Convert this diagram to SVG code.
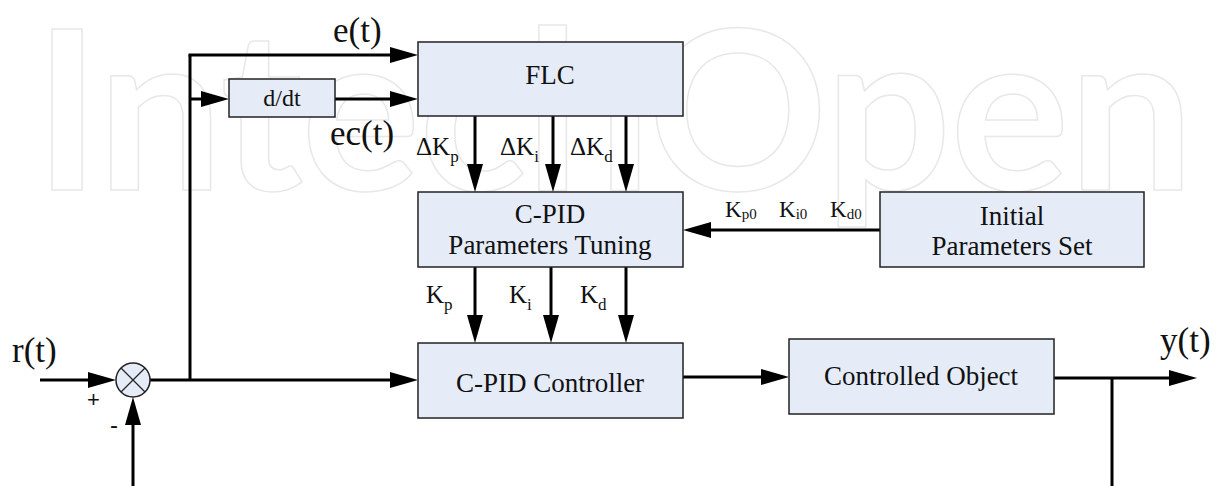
<svg xmlns="http://www.w3.org/2000/svg" width="1218" height="486" viewBox="0 0 1218 486">
<style>
.box{fill:#E5ECF7;stroke:#222;stroke-width:1.5}
.bt{font-family:"Liberation Serif","Times New Roman",serif;fill:#111;font-size:27px;text-anchor:middle}
.big{font-family:"Liberation Serif","Times New Roman",serif;fill:#111;font-size:35px}
.sm{font-family:"Liberation Serif","Times New Roman",serif;fill:#111;font-size:25px}
.k0{font-family:"Liberation Serif","Times New Roman",serif;fill:#111;font-size:23px}
.sg{font-family:"Liberation Sans",Arial,sans-serif;fill:#111}
.wire{fill:none;stroke:#000;stroke-width:3}
.wa{fill:none;stroke:#000;stroke-width:3;marker-end:url(#ah)}
.wm{font-family:Lato,"DejaVu Sans",sans-serif;font-weight:bold;font-size:223px;fill:none;stroke:#E8E8E8;stroke-width:1.5}
</style>
<defs>
<marker id="ah" viewBox="0 0 28 16" markerWidth="28" markerHeight="16" refX="18" refY="8" orient="auto" markerUnits="userSpaceOnUse">
<path d="M0,0 L28,8 L0,16 Z" fill="#000"/>
</marker>
</defs>
<rect width="1218" height="486" fill="#fff"/>
<text class="wm" x="34" y="190" textLength="1160" lengthAdjust="spacing">IntechOpen</text>

<g id="connectors">
<path class="wa" d="M40,380 H106"/>
<path class="wa" d="M133,486 V407"/>
<path class="wa" d="M150,380 H408"/>
<path class="wire" d="M190,380 V55"/>
<path class="wa" d="M188.5,55 H408"/>
<path class="wa" d="M190,99 H219"/>
<path class="wa" d="M335,99 H408"/>
<path class="wa" d="M475,116 V182"/>
<path class="wa" d="M553,116 V182"/>
<path class="wa" d="M626,116 V182"/>
<path class="wa" d="M475,267 V333"/>
<path class="wa" d="M551,267 V333"/>
<path class="wa" d="M626,267 V333"/>
<path class="wa" d="M880,230 H693"/>
<path class="wa" d="M682,377 H779"/>
<path class="wa" d="M1054,378 H1187"/>
<path class="wire" d="M1112,378 V486"/>
</g>

<g id="sum">
<circle cx="133" cy="380" r="17" fill="#E5ECF7" stroke="#222" stroke-width="1.5"/>
<path d="M121,368 L145,392 M145,368 L121,392" stroke="#222" stroke-width="1.2"/>
</g>

<g id="flc">
<rect class="box" x="418" y="42" width="265" height="74"/>
<text class="bt" x="550" y="84">FLC</text>
</g>
<g id="ddt">
<rect class="box" x="229" y="79" width="106" height="38"/>
<text class="bt" style="font-size:24px" x="282" y="106">d/dt</text>
</g>
<g id="tuning">
<rect class="box" x="418" y="192" width="265" height="75"/>
<text class="bt" x="550" y="223">C-PID</text>
<text class="bt" x="550" y="254">Parameters Tuning</text>
</g>
<g id="initial">
<rect class="box" x="880" y="192" width="264" height="75"/>
<text class="bt" x="1012" y="225">Initial</text>
<text class="bt" x="1012" y="255">Parameters Set</text>
</g>
<g id="controller">
<rect class="box" x="418" y="343" width="265" height="75"/>
<text class="bt" x="550" y="392">C-PID Controller</text>
</g>
<g id="object">
<rect class="box" x="789" y="339" width="265" height="75"/>
<text class="bt" x="921" y="385">Controlled Object</text>
</g>

<g id="labels">
<text class="big" x="333" y="42">e(t)</text>
<text class="big" x="330" y="145">ec(t)</text>
<text class="big" x="12" y="362">r(t)</text>
<text class="big" x="1160" y="352">y(t)</text>
<text class="sg" x="87" y="407" style="font-size:22px">+</text>
<text class="sg" x="110" y="433" style="font-size:24px">-</text>
<text class="sm" x="416" y="155">ΔK<tspan font-size="17" dy="7">p</tspan></text>
<text class="sm" x="500" y="155">ΔK<tspan font-size="17" dy="7">i</tspan></text>
<text class="sm" x="570" y="155">ΔK<tspan font-size="17" dy="7">d</tspan></text>
<text class="sm" x="426" y="303">K<tspan font-size="17" dy="7">p</tspan></text>
<text class="sm" x="509" y="303">K<tspan font-size="17" dy="7">i</tspan></text>
<text class="sm" x="580" y="303">K<tspan font-size="17" dy="7">d</tspan></text>
<text class="k0" x="725" y="217">K<tspan font-size="15" dy="2">p0</tspan></text>
<text class="k0" x="779" y="217">K<tspan font-size="15" dy="2">i0</tspan></text>
<text class="k0" x="830" y="217">K<tspan font-size="15" dy="2">d0</tspan></text>
</g>
</svg>
